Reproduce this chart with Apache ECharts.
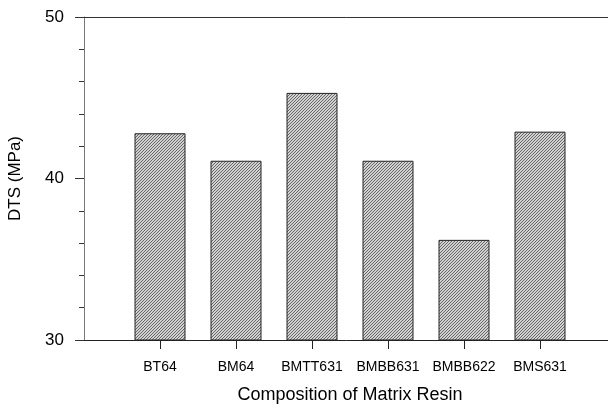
<!DOCTYPE html>
<html>
<head>
<meta charset="utf-8">
<script src="https://cdn.jsdelivr.net/npm/echarts@6/dist/echarts.min.js"></script>
<style>
  html, body { margin: 0; padding: 0; background: #fff; overflow: hidden; }
  #chart { width: 608px; height: 404px; }
</style>
</head>
<body>
<div id="chart"></div>
<script>
// resin compositions and their DTS values
const categories = ['BT64', 'BM64', 'BMTT631', 'BMBB631', 'BMBB622', 'BMS631'];
const dtsValues = [42.8, 41.1, 45.3, 41.1, 36.2, 42.9];
const yTicks = [30, 40, 50];

// empty slot on each side so the bars sit at positions 1..6
const axisData = [''].concat(categories, ['']);
const seriesData = ['-'].concat(dtsValues, ['-']);

// small diagonal hatch tile for the bars
function hatch() {
    const c = document.createElement('canvas');
    c.width = 3;
    c.height = 3;
    const ctx = c.getContext('2d');
    ctx.fillStyle = '#d2d2d2';
    ctx.fillRect(0, 0, 3, 3);
    ctx.fillStyle = '#666';
    for (let i = 0; i < 3; i++) {
        ctx.fillRect(i, 2 - i, 1, 1);
    }
    return c;
}

const font = 'Liberation Sans, Arial, Helvetica, sans-serif';
const chart = echarts.init(document.getElementById('chart'));

chart.setOption({
    animation: false,
    grid: {
        left: 84,
        top: 17,
        right: -8,
        bottom: 64,
        outerBoundsMode: 'none'
    },
    xAxis: [
        {
            type: 'category',
            data: axisData,
            boundaryGap: false,
            name: 'Composition of Matrix Resin',
            nameLocation: 'middle',
            nameGap: 46,
            nameTextStyle: { fontFamily: font, fontSize: 18, color: '#000' },
            axisLine: { lineStyle: { color: '#222', width: 1 } },
            axisTick: {
                length: 9,
                interval: function (i) { return i > 0 && i < axisData.length - 1; },
                lineStyle: { color: '#222' }
            },
            axisLabel: {
                interval: 0,
                margin: 20,
                fontFamily: font,
                fontSize: 14,
                color: '#000'
            },
            splitLine: { show: false }
        },
        {
            // top frame line only
            type: 'category',
            position: 'top',
            data: axisData,
            boundaryGap: false,
            axisLine: { lineStyle: { color: '#333', width: 1 } },
            axisTick: { show: false },
            axisLabel: { show: false },
            splitLine: { show: false }
        }
    ],
    yAxis: {
        type: 'value',
        min: yTicks[0],
        max: yTicks[yTicks.length - 1],
        interval: 10,
        name: 'DTS (MPa)',
        nameLocation: 'middle',
        nameGap: 60,
        nameTextStyle: { fontFamily: font, fontSize: 17, color: '#000' },
        axisLine: { show: true, lineStyle: { color: '#777', width: 1 } },
        axisTick: { show: true, length: 9, lineStyle: { color: '#333' } },
        minorTick: { show: true, splitNumber: 5, length: 5, lineStyle: { color: '#333' } },
        axisLabel: {
            margin: 20,
            fontFamily: font,
            fontSize: 17,
            color: '#000'
        },
        splitLine: { show: false }
    },
    series: [
        {
            type: 'bar',
            data: seriesData,
            barWidth: 51,
            itemStyle: {
                color: { image: hatch(), repeat: 'repeat' },
                borderColor: '#222',
                borderWidth: 1
            }
        }
    ]
});

window.addEventListener('resize', function () {
    chart.resize();
});
</script>
</body>
</html>
